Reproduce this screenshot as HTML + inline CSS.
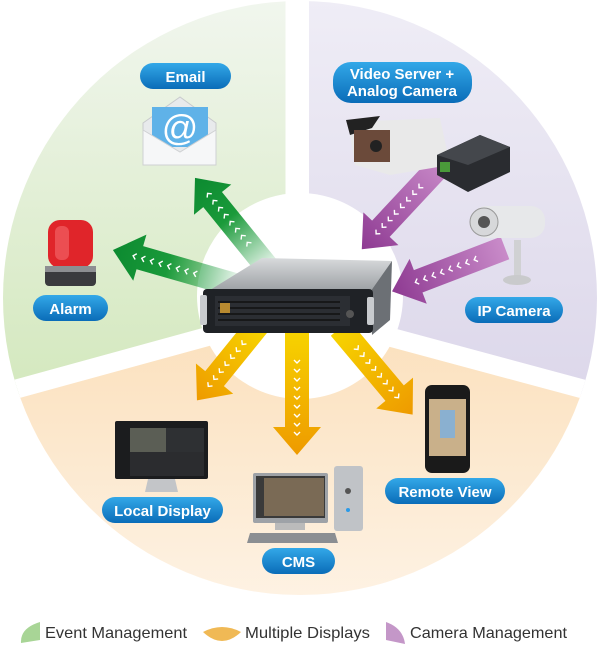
<!DOCTYPE html>
<html><head><meta charset="utf-8"><style>
html,body{margin:0;padding:0;background:#fff;}
svg{display:block}
.lbl{font-family:"Liberation Sans",sans-serif;font-weight:bold;fill:#fff;font-size:15px;text-anchor:middle}
.lg{font-family:"Liberation Sans",sans-serif;fill:#333;font-size:16px}
</style></head><body>
<svg width="600" height="647" viewBox="0 0 600 647" xmlns="http://www.w3.org/2000/svg">
<defs>
<clipPath id="c"><circle cx="300" cy="298" r="297"/></clipPath>
<linearGradient id="gG" x1="0" y1="0" x2="0" y2="1"><stop offset="0" stop-color="#f1f6ee"/><stop offset="1" stop-color="#d3e8bd"/></linearGradient>
<linearGradient id="gP" x1="0" y1="0" x2="0" y2="1"><stop offset="0" stop-color="#efedf6"/><stop offset="1" stop-color="#dcd7ea"/></linearGradient>
<linearGradient id="gO" x1="0" y1="0" x2="0" y2="1"><stop offset="0" stop-color="#fbe0bc"/><stop offset="1" stop-color="#fef5ea"/></linearGradient>
<linearGradient id="aG" x1="0" y1="0" x2="1" y2="0"><stop offset="0" stop-color="#1a9a3a" stop-opacity="0.1"/><stop offset="0.55" stop-color="#1a9a3a"/><stop offset="1" stop-color="#0c8a30"/></linearGradient>
<linearGradient id="aP" x1="0" y1="0" x2="1" y2="0"><stop offset="0" stop-color="#c98bc9"/><stop offset="1" stop-color="#8e3a92"/></linearGradient>
<linearGradient id="aO" x1="0" y1="0" x2="1" y2="0"><stop offset="0" stop-color="#f7d400"/><stop offset="1" stop-color="#ee9a00"/></linearGradient>
<linearGradient id="pill" x1="0" y1="0" x2="0" y2="1"><stop offset="0" stop-color="#33a8e8"/><stop offset="1" stop-color="#0a6cb8"/></linearGradient>
<linearGradient id="srvTop" x1="0" y1="0" x2="0" y2="1"><stop offset="0" stop-color="#d8dadc"/><stop offset="1" stop-color="#9a9ea2"/></linearGradient>
<g id="chev" fill="none" stroke="#fff" stroke-width="1.4"><path d="M0,-3 L3,0 L0,3"/></g>
</defs>
<g clip-path="url(#c)">
<polygon points="0,0 286,0 286,325 0,400" fill="url(#gG)"/>
<polygon points="309,0 600,0 600,400 309,320" fill="url(#gP)"/>
<polygon points="0,400 297,320 600,400 600,647 0,647" fill="url(#gO)"/>
<line x1="297" y1="0" x2="297" y2="312" stroke="#fff" stroke-width="23"/>
<line x1="297" y1="312" x2="-20" y2="399" stroke="#fff" stroke-width="19"/>
<line x1="297" y1="312" x2="620" y2="399" stroke="#fff" stroke-width="19"/>
</g>
<circle cx="300" cy="296" r="103" fill="#fff"/>

<g transform="translate(268,268) rotate(-129)"><polygon points="0,-12 88,-12 88,-24 116,0 88,24 88,12 0,12" fill="url(#aG)"/><g>
<use href="#chev" x="30"/><use href="#chev" x="39"/><use href="#chev" x="48"/><use href="#chev" x="57"/><use href="#chev" x="66"/><use href="#chev" x="75"/><use href="#chev" x="84"/><use href="#chev" x="93"/></g></g>
<g transform="translate(235,285) rotate(196)"><polygon points="0,-12 99,-12 99,-24 127,0 99,24 99,12 0,12" fill="url(#aG)"/>
<use href="#chev" x="40"/><use href="#chev" x="49"/><use href="#chev" x="58"/><use href="#chev" x="67"/><use href="#chev" x="76"/><use href="#chev" x="85"/><use href="#chev" x="94"/><use href="#chev" x="103"/></g>
<g transform="translate(445,160) rotate(133)"><polygon points="0,-12 94,-12 94,-24 122,0 94,24 94,12 0,12" fill="url(#aP)"/>
<use href="#chev" x="35"/><use href="#chev" x="44"/><use href="#chev" x="53"/><use href="#chev" x="62"/><use href="#chev" x="71"/><use href="#chev" x="80"/><use href="#chev" x="89"/><use href="#chev" x="98"/></g>
<g transform="translate(505,248) rotate(159)"><polygon points="0,-12 93,-12 93,-24 121,0 93,24 93,12 0,12" fill="url(#aP)"/>
<use href="#chev" x="30"/><use href="#chev" x="39"/><use href="#chev" x="48"/><use href="#chev" x="57"/><use href="#chev" x="66"/><use href="#chev" x="75"/><use href="#chev" x="84"/><use href="#chev" x="93"/></g>
<g transform="translate(258,325) rotate(129)"><polygon points="0,-12 69,-12 69,-24 97,0 69,24 69,12 0,12" fill="url(#aO)"/>
<use href="#chev" x="22"/><use href="#chev" x="31"/><use href="#chev" x="40"/><use href="#chev" x="49"/><use href="#chev" x="58"/><use href="#chev" x="67"/><use href="#chev" x="76"/></g>
<g transform="translate(297,330) rotate(90)"><polygon points="0,-12 97,-12 97,-24 125,0 97,24 97,12 0,12" fill="url(#aO)"/>
<use href="#chev" x="30"/><use href="#chev" x="39"/><use href="#chev" x="48"/><use href="#chev" x="57"/><use href="#chev" x="66"/><use href="#chev" x="75"/><use href="#chev" x="84"/><use href="#chev" x="93"/><use href="#chev" x="102"/></g>
<g transform="translate(340,328) rotate(50)"><polygon points="0,-12 85,-12 85,-24 113,0 85,24 85,12 0,12" fill="url(#aO)"/>
<use href="#chev" x="25"/><use href="#chev" x="34"/><use href="#chev" x="43"/><use href="#chev" x="52"/><use href="#chev" x="61"/><use href="#chev" x="70"/><use href="#chev" x="79"/><use href="#chev" x="88"/></g>

<polygon points="210,290 262,258 392,261 370,292" fill="url(#srvTop)"/>
<polygon points="370,292 392,261 390,320 372,335" fill="#6c7075"/>
<rect x="203" y="289" width="170" height="44" rx="4" fill="#1f2226"/>
<rect x="215" y="296" width="135" height="30" fill="#2b2e33"/>
<g stroke="#111" stroke-width="1.5"><line x1="218" y1="302" x2="340" y2="302"/><line x1="218" y1="308" x2="340" y2="308"/><line x1="218" y1="314" x2="340" y2="314"/><line x1="218" y1="320" x2="340" y2="320"/></g>
<rect x="220" y="303" width="10" height="10" fill="#b88a30"/>
<rect x="200" y="295" width="7" height="30" rx="2" fill="#c8cbce"/>
<rect x="367" y="297" width="7" height="28" rx="2" fill="#c8cbce"/>
<circle cx="350" cy="314" r="4" fill="#555"/>

<polygon points="143,123 180,97 216,123 216,165 143,165" fill="#e8eaec" stroke="#c8cacc"/>
<rect x="152" y="107" width="56" height="40" fill="#5fb2e8"/>
<text x="180" y="140" font-family="Liberation Sans,sans-serif" font-size="36" fill="#fff" text-anchor="middle">@</text>
<polygon points="143,130 180,152 216,130 216,165 143,165" fill="#f6f7f8" stroke="#cfd1d3"/>

<rect x="48" y="220" width="45" height="48" rx="12" fill="#e0252a"/>
<rect x="55" y="226" width="14" height="34" rx="6" fill="#f36b6e" opacity="0.6"/>
<rect x="45" y="266" width="51" height="20" rx="4" fill="#3a3b3e"/>
<rect x="45" y="266" width="51" height="6" fill="#8d8f92"/>

<polygon points="348,122 440,118 450,165 390,175 355,165" fill="#e9e9e9"/>
<polygon points="346,120 380,116 372,128 350,135" fill="#222"/>
<rect x="354" y="130" width="36" height="32" fill="#6b4a3a"/>
<circle cx="376" cy="146" r="6" fill="#222"/>
<polygon points="437,155 480,135 510,147 510,172 468,192 437,175" fill="#2a2c30"/>
<polygon points="437,155 480,135 510,147 468,165" fill="#44474c"/>
<rect x="440" y="162" width="10" height="10" fill="#4a9a3a"/>

<rect x="472" y="206" width="73" height="32" rx="14" fill="#e7e8ea"/>
<circle cx="484" cy="222" r="14" fill="#d7d8da" stroke="#999"/>
<circle cx="484" cy="222" r="6" fill="#555"/>
<rect x="514" y="240" width="7" height="36" fill="#d0d1d3"/>
<ellipse cx="517" cy="280" rx="14" ry="5" fill="#c9cacc"/>

<rect x="115" y="421" width="93" height="58" rx="2" fill="#1b1c1e"/>
<rect x="130" y="428" width="36" height="24" fill="#5b5e55"/>
<rect x="166" y="428" width="38" height="24" fill="#2e3033"/>
<rect x="130" y="452" width="74" height="24" fill="#2b2c2f"/>
<polygon points="148,479 175,479 178,492 145,492" fill="#c3c5c8"/>

<rect x="253" y="473" width="75" height="50" rx="2" fill="#9ea2a7"/>
<rect x="256" y="476" width="69" height="42" fill="#3a3a3a"/>
<rect x="264" y="478" width="60" height="38" fill="#7a6a55"/>
<rect x="275" y="523" width="30" height="7" fill="#bbb"/>
<polygon points="250,533 335,533 338,543 247,543" fill="#8b8e92"/>
<rect x="334" y="466" width="29" height="65" rx="3" fill="#c0c3c7"/>
<circle cx="348" cy="491" r="3" fill="#555"/>
<circle cx="348" cy="510" r="2" fill="#2a9ae8"/>

<rect x="425" y="385" width="45" height="88" rx="7" fill="#1a1a1a"/>
<rect x="429" y="399" width="37" height="57" fill="#c9b08a"/>
<rect x="440" y="410" width="15" height="28" fill="#8ab0d0"/>

<rect x="140" y="63" width="91" height="26" rx="13" fill="url(#pill)"/><text class="lbl" x="185.5" y="82">Email</text>
<rect x="333" y="62" width="139" height="41" rx="18" fill="url(#pill)"/><text class="lbl" x="402" y="79" font-size="14">Video Server +</text><text class="lbl" x="402" y="96" font-size="14">Analog Camera</text>
<rect x="33" y="295" width="75" height="26" rx="13" fill="url(#pill)"/><text class="lbl" x="70.5" y="314">Alarm</text>
<rect x="465" y="297" width="98" height="26" rx="13" fill="url(#pill)"/><text class="lbl" x="514" y="316">IP Camera</text>
<rect x="102" y="497" width="121" height="26" rx="13" fill="url(#pill)"/><text class="lbl" x="162.5" y="516">Local Display</text>
<rect x="385" y="478" width="120" height="26" rx="13" fill="url(#pill)"/><text class="lbl" x="445" y="497">Remote View</text>
<rect x="262" y="548" width="73" height="26" rx="13" fill="url(#pill)"/><text class="lbl" x="298.5" y="567">CMS</text>

<path d="M21,643 Q20,628 40,622 L40,640 Z" fill="#a8d596"/>
<text class="lg" x="45" y="638" textLength="142" lengthAdjust="spacingAndGlyphs">Event Management</text>
<path d="M203,632 Q222,622 241,632 Q222,650 203,632 Z" fill="#f0b955"/>
<text class="lg" x="245" y="638" textLength="125" lengthAdjust="spacingAndGlyphs">Multiple Displays</text>
<path d="M386,622 Q403,628 405,644 L386,640 Z" fill="#c497c8"/>
<text class="lg" x="410" y="638" textLength="157" lengthAdjust="spacingAndGlyphs">Camera Management</text>
</svg>
</body></html>
